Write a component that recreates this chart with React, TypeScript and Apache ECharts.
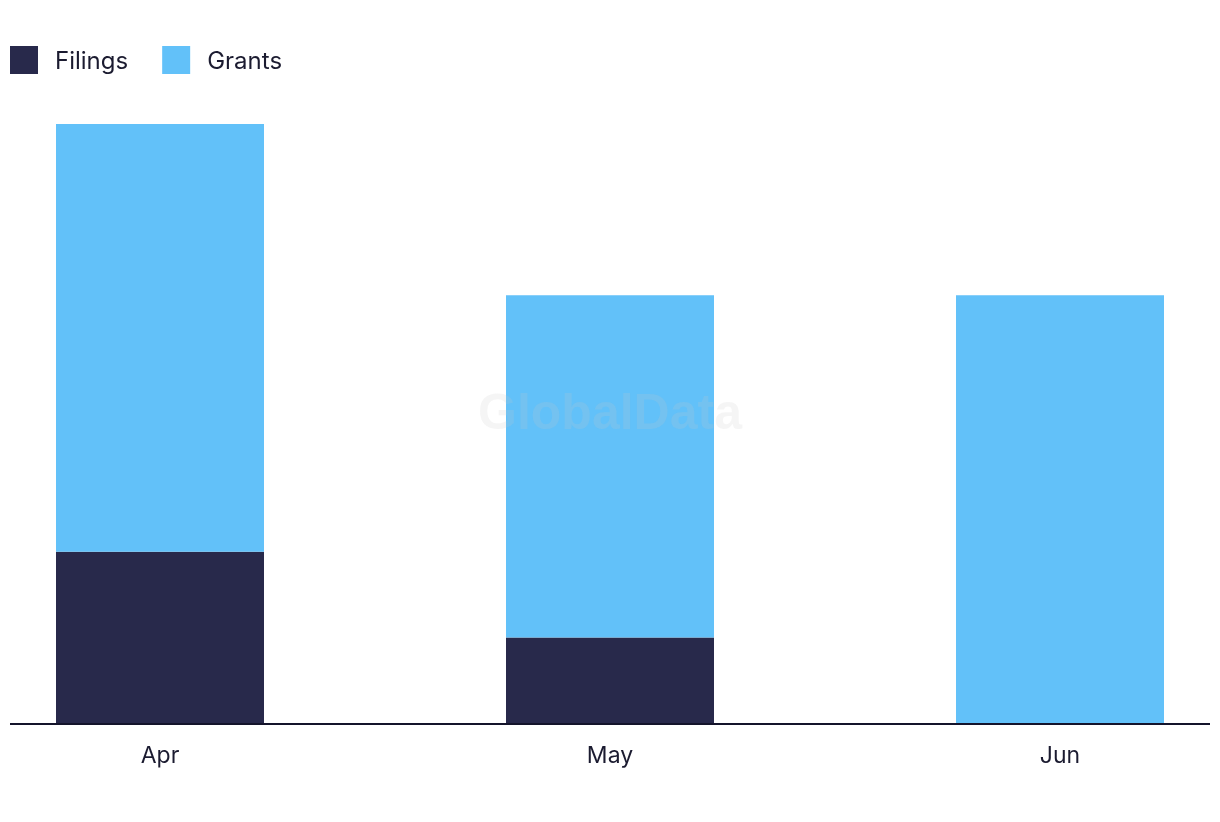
import React, { useEffect, useRef } from "react";
import * as echarts from "echarts";

const categories = ["Apr", "May", "Jun"];
const filings = [2, 1, 0];
const grants = [5, 4, 5];
const seriesNames = ["Filings", "Grants"];
const colors = ["#28294b", "#62c1f9"];

export default function App() {
  const ref = useRef<HTMLDivElement>(null);
  useEffect(() => {
    if (!ref.current) return;
    const chart = echarts.init(ref.current, undefined, { renderer: "svg" });
    chart.setOption({
      animation: false,
      textStyle: { fontFamily: "Inter, 'Noto Sans', sans-serif" },
      legend: {
        left: 5,
        top: 41,
        itemWidth: 28,
        itemHeight: 28,
        itemGap: 34,
        icon: "rect",
        data: seriesNames,
        textStyle: {
          fontSize: 24,
          color: "#1b1b30",
          padding: [0, 0, 6, 12],
          fontFamily: "Inter, 'Noto Sans', sans-serif",
        },
      },
      grid: { left: 160, right: 160, top: 124, bottom: 99, containLabel: false },
      xAxis: {
        type: "category",
        data: categories,
        boundaryGap: false,
        axisLine: { show: false },
        axisTick: { show: false },
        splitLine: { show: false },
        axisLabel: {
          fontSize: 23,
          color: "#1b1b30",
          margin: 20,
          fontFamily: "Inter, 'Noto Sans', sans-serif",
        },
      },
      yAxis: {
        type: "value",
        min: 0,
        max: 7,
        show: false,
        splitLine: { show: false },
      },
      series: [
        {
          name: seriesNames[0],
          type: "bar",
          stack: "total",
          data: filings,
          barWidth: 208,
          clip: false,
          itemStyle: { color: colors[0] },
        },
        {
          name: seriesNames[1],
          type: "bar",
          stack: "total",
          data: grants,
          barWidth: 208,
          clip: false,
          itemStyle: { color: colors[1] },
        },
      ],
      graphic: [
        {
          type: "line",
          shape: { x1: 10, y1: 724, x2: 1210, y2: 724 },
          style: { stroke: "#14142b", lineWidth: 2 },
          z: 10,
        },
        {
          type: "text",
          x: 610,
          y: 412,
          z: 20,
          style: {
            text: "GlobalData",
            fontSize: 50,
            fontWeight: "bold",
            fontFamily: "'Liberation Sans', Arial, sans-serif",
            fill: "rgba(200,200,200,0.18)",
            align: "center",
            verticalAlign: "middle",
          },
        },
      ],
    });
    return () => chart.dispose();
  }, []);
  return (
    <div
      ref={ref}
      style={{ position: "fixed", left: 0, top: 0, width: 1220, height: 822 }}
    />
  );
}
